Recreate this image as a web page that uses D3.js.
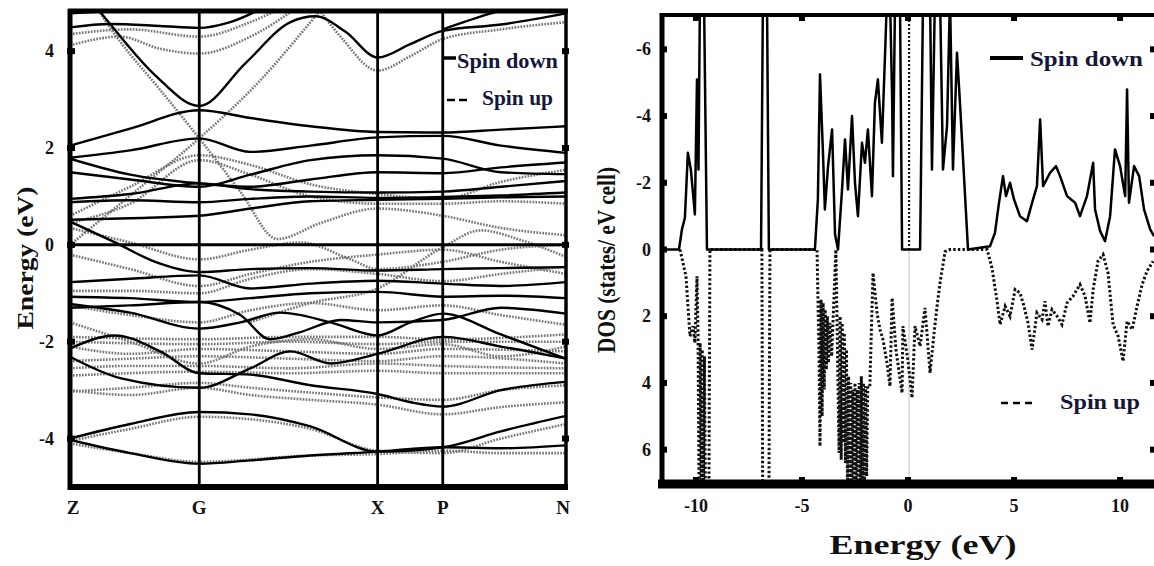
<!DOCTYPE html>
<html>
<head>
<meta charset="utf-8">
<script src="https://cdnjs.cloudflare.com/ajax/libs/d3/7.8.5/d3.min.js"></script>
<style>
body { margin: 0; background: #fff; }
svg text { font-family: "Liberation Serif", "DejaVu Serif", serif; font-weight: bold; fill: #111; }
</style>
</head>
<body>
<div id="chart"></div>
<script>
// high symmetry points along the k-path
var kLabels = ["Z", "G", "X", "P", "N"];
var kPos = [0, 1.29, 3.07, 3.72, 4.95];
var bandTicks = [-4, -2, 0, 2, 4];

// spin down bands (solid), [k, E]
var spinDownBands = [
  [[0,4.78],[0.6,4.85],[1.29,4.95],[1.7,5.1]],
  [[0,4.49],[0.4,4.56],[0.9,4.52],[1.29,4.48],[1.6,4.6],[2.0,4.95],[2.2,5.1]],
  [[0,5.6],[0.4,4.56],[0.85,3.5],[1.29,2.87],[1.75,3.75],[2.2,4.6],[2.45,4.72],[2.75,4.4],[3.07,3.87],[3.4,4.15],[3.72,4.42],[4.3,4.55],[4.95,4.78]],
  [[3.72,4.45],[4.2,4.78],[4.6,5.0],[4.95,5.1]],
  [[0,2.05],[0.6,2.4],[1.29,2.78],[1.8,2.62],[2.4,2.45],[3.07,2.33],[3.72,2.32],[4.3,2.38],[4.95,2.45]],
  [[0,1.8],[0.6,1.95],[1.29,2.2],[1.8,1.92],[2.4,2.05],[3.07,2.22],[3.72,2.25],[4.3,2.05],[4.95,1.9]],
  [[0,1.78],[0.6,1.45],[1.29,1.27],[1.8,1.2],[2.4,1.35],[3.07,1.5],[3.72,1.48],[4.3,1.6],[4.95,1.7]],
  [[0,1.5],[0.6,1.35],[1.29,1.2],[1.8,1.45],[2.4,1.75],[3.07,1.85],[3.72,1.78],[4.3,1.5],[4.95,1.46]],
  [[0,0.95],[0.6,1.05],[1.29,1.27],[1.8,1.15],[2.4,1.1],[3.07,1.08],[3.72,1.1],[4.3,1.2],[4.95,1.32]],
  [[0,0.88],[0.6,0.92],[1.29,0.88],[1.8,0.95],[2.4,1.0],[3.07,0.97],[3.72,0.99],[4.3,1.02],[4.95,1.08]],
  [[0,0.52],[0.6,0.55],[1.29,0.6],[1.8,0.75],[2.4,0.9],[3.07,0.93],[3.72,0.95],[4.3,0.98],[4.95,1.0]],
  [[0,0.48],[0.45,0.05],[0.85,-0.35],[1.29,-0.56],[1.8,-0.5],[2.4,-0.48],[3.07,-0.53],[3.72,-0.5],[4.3,-0.48],[4.95,-0.46]],
  [[0,-0.77],[0.6,-0.7],[1.29,-0.63],[1.8,-0.9],[2.4,-0.8],[3.07,-0.74],[3.72,-0.8],[4.3,-0.85],[4.95,-0.77]],
  [[0,-1.07],[0.6,-1.1],[1.29,-1.18],[1.8,-1.1],[2.4,-1.0],[3.07,-0.97],[3.72,-1.07],[4.3,-1.05],[4.95,-1.1]],
  [[0,-1.22],[0.6,-1.4],[1.29,-1.73],[1.7,-1.6],[2.1,-1.4],[2.6,-1.6],[3.07,-1.87],[3.4,-1.6],[3.72,-1.42],[4.3,-1.85],[4.95,-2.35]],
  [[0,-1.3],[0.6,-1.25],[1.29,-1.18],[1.7,-1.45],[2.0,-1.95],[2.3,-1.8],[2.7,-1.55],[3.07,-1.6],[3.72,-1.55],[4.3,-1.3],[4.95,-1.42]],
  [[0,-2.14],[0.45,-1.87],[0.9,-2.2],[1.29,-2.65],[1.8,-2.68],[2.4,-2.9],[3.07,-3.08],[3.4,-3.25],[3.72,-3.34],[4.3,-3.0],[4.95,-2.83]],
  [[0,-2.31],[0.5,-2.75],[1.29,-2.95],[1.8,-2.55],[2.2,-2.2],[2.6,-2.45],[3.07,-2.25],[3.72,-1.9],[4.3,-2.1],[4.95,-2.35]],
  [[0,-4.0],[0.6,-3.7],[1.29,-3.45],[1.8,-3.5],[2.4,-3.75],[3.07,-4.27],[3.72,-4.18],[4.3,-3.85],[4.95,-3.53]],
  [[0,-4.03],[0.6,-4.3],[1.29,-4.52],[1.8,-4.45],[2.4,-4.35],[3.07,-4.27],[3.72,-4.18],[4.3,-4.2],[4.95,-4.14]]
];

// spin up bands (dotted), [k, E]
var spinUpBands = [
  [[0,4.12],[0.5,4.3],[0.9,4.05],[1.29,3.95],[1.8,4.3],[2.3,4.95]],
  [[0,4.35],[0.6,4.45],[1.29,4.3],[1.8,4.6],[2.3,5.1]],
  [[2.4,5.1],[2.7,4.3],[3.07,3.6],[3.4,3.9],[3.72,4.25],[4.3,4.45],[4.95,4.6]],
  [[0,0.0],[0.65,1.1],[1.29,2.2],[1.9,3.4],[2.4,4.6],[2.6,5.1]],
  [[0.2,5.1],[0.5,4.2],[0.9,3.2],[1.29,2.2],[1.7,1.1],[2.07,0.12],[2.5,0.45],[3.07,0.75],[3.72,0.6],[4.3,0.35],[4.95,0.2]],
  [[0,0.6],[0.6,1.2],[1.29,1.85],[1.8,1.65],[2.4,1.25],[3.07,1.05],[3.72,0.95],[4.3,1.3],[4.95,1.55]],
  [[0,0.45],[0.6,0.85],[1.29,1.75],[1.8,1.45],[2.4,1.0],[3.07,0.85],[3.72,0.85],[4.3,0.9],[4.95,0.85]],
  [[0,0.35],[0.6,0.05],[1.29,-0.3],[1.8,-0.1],[2.3,0.05],[2.8,-0.3],[3.07,-0.5],[3.72,-0.35],[4.3,-0.1],[4.95,0.0]],
  [[0,-0.2],[0.6,-0.5],[1.29,-0.85],[1.8,-0.6],[2.4,-0.35],[3.07,-0.2],[3.72,-0.1],[4.3,-0.35],[4.95,-0.6]],
  [[0,-0.95],[0.6,-0.95],[1.29,-1.0],[1.8,-0.7],[2.4,-0.5],[3.07,-0.6],[3.72,-0.75],[4.3,-0.6],[4.95,-0.45]],
  [[0,-1.25],[0.6,-1.45],[1.29,-1.6],[1.8,-1.35],[2.4,-1.2],[3.07,-1.35],[3.72,-1.25],[4.3,-1.45],[4.95,-1.65]],
  [[1.8,-1.6],[2.4,-1.2],[3.07,-0.9],[3.72,-0.05],[4.1,0.3],[4.5,0.1],[4.95,-0.25]],
  [[0,-1.9],[1.29,-1.95],[2.2,-1.9],[3.07,-1.9],[3.72,-1.95],[4.95,-1.85]],
  [[0,-2.0],[1.29,-2.05],[2.2,-2.0],[3.07,-2.05],[3.72,-2.0],[4.95,-2.0]],
  [[0,-2.1],[0.6,-2.25],[1.29,-2.15],[2.2,-2.2],[3.07,-2.25],[3.72,-2.15],[4.95,-2.2]],
  [[0,-2.4],[0.6,-2.35],[1.29,-2.3],[2.2,-2.35],[3.07,-2.4],[3.72,-2.3],[4.95,-2.45]],
  [[0,-2.55],[0.6,-2.5],[1.29,-2.5],[2.2,-2.55],[3.07,-2.45],[3.72,-2.5],[4.95,-2.55]],
  [[0,-2.7],[1.29,-2.62],[2.2,-2.65],[3.07,-2.6],[3.72,-2.65],[4.95,-2.65]],
  [[0,-1.6],[0.6,-2.0],[1.29,-2.45],[1.8,-2.1],[2.4,-1.95],[3.07,-2.15],[3.72,-2.05],[4.3,-2.3],[4.95,-2.1]],
  [[0,-3.03],[0.6,-2.95],[1.29,-2.85],[1.8,-2.95],[2.4,-3.05],[3.07,-3.15],[3.72,-3.2],[4.3,-3.0],[4.95,-2.9]],
  [[0,-3.0],[0.6,-3.1],[1.29,-2.95],[1.8,-3.1],[2.4,-3.2],[3.07,-3.3],[3.72,-3.5],[4.3,-3.35],[4.95,-3.25]],
  [[0,-4.05],[0.6,-3.8],[1.29,-3.55],[1.8,-3.6],[2.4,-3.8],[3.07,-4.25],[3.72,-4.3],[4.3,-4.0],[4.95,-3.7]],
  [[0,-4.1],[0.6,-4.3],[1.29,-4.48],[2.4,-4.35],[3.07,-4.32],[3.72,-4.25],[4.3,-4.3],[4.95,-4.3]]
];

// DOS, [E, states]; spin down drawn negative (upwards)
var dosSpinDown = [
  [-11.56,0],[-10.8,0],[-10.66,-0.6],[-10.52,-0.95],[-10.38,-2.9],[-10.24,-2.4],[-10.05,-1.05],[-9.95,-5.1],[-9.88,-2.4],[-9.81,-7.6],[-9.62,-7.6],[-9.48,0],
  [-6.93,0],[-6.84,-7.6],[-6.65,-7.6],[-6.56,0],
  [-4.39,0],[-4.25,-1.5],[-4.15,-5.25],[-4.01,-2.9],[-3.92,-1.2],[-3.77,-2.5],[-3.58,-3.6],[-3.44,-0.45],[-3.3,0],[-3.11,-1.8],[-2.97,-3.3],[-2.83,-1.8],[-2.64,-4.0],[-2.5,-2.0],[-2.36,-1.0],[-2.17,-3.2],[-2.03,-2.6],[-1.89,-3.6],[-1.7,-1.6],[-1.56,-4.4],[-1.42,-5.1],[-1.23,-3.2],[-1.08,-5.9],[-0.99,-7.6],[-0.85,-7.6],[-0.75,-4.6],[-0.71,-2.2],[-0.61,-7.6],[-0.38,-7.6],[-0.28,0],
  [0.57,0],[0.71,-7.6],[1.04,-7.6],[1.13,-2.4],[1.27,-7.6],[1.51,-7.6],[1.65,-2.4],[1.84,-3.7],[1.98,-7.6],[2.12,-2.4],[2.31,-5.9],[2.45,-4.4],[2.83,0],
  [3.87,-0.1],[4.1,-0.5],[4.29,-1.4],[4.48,-2.2],[4.62,-1.6],[4.81,-2.0],[5.0,-1.5],[5.28,-1.0],[5.61,-0.85],[5.85,-1.4],[6.08,-1.9],[6.23,-3.9],[6.37,-1.9],[6.7,-2.3],[6.98,-2.5],[7.17,-2.2],[7.5,-1.6],[7.88,-1.4],[8.11,-1.0],[8.44,-1.6],[8.73,-2.6],[8.82,-1.2],[9.06,-0.55],[9.29,-0.25],[9.53,-1.0],[9.76,-3.0],[10.0,-2.5],[10.24,-1.6],[10.33,-4.8],[10.42,-1.4],[10.66,-2.5],[10.9,-2.2],[11.13,-1.2],[11.42,-0.6],[11.6,-0.4]
];

var dosSpinUp = [
  [-10.75,0],[-10.47,0.8],[-10.28,2.6],[-10.14,2.3],[-10.05,2.8],[-9.95,0.8],[-9.9,2.6],[-9.85,7.6],[-9.8,2.8],[-9.75,7.6],[-9.7,3.0],[-9.65,7.6],[-9.6,3.2],[-9.55,7.6],[-9.39,7.6],[-9.34,0],
  [-6.89,0],[-6.85,7.6],[-6.56,7.6],[-6.51,0],
  [-4.29,0],[-4.2,3.0],[-4.15,5.9],[-4.1,1.5],[-4.05,5.0],[-4.0,1.6],[-3.95,4.2],[-3.9,1.8],[-3.85,3.6],[-3.8,2.0],[-3.75,3.4],[-3.68,2.2],[-3.6,3.2],[-3.4,0],
  [-3.25,6.1],[-3.2,2.0],[-3.15,6.3],[-3.1,2.2],[-3.05,5.8],[-3.0,2.5],[-2.95,6.4],[-2.9,3.0],[-2.85,7.6],[-2.8,3.8],[-2.75,7.6],[-2.7,4.0],[-2.65,7.6],[-2.6,4.2],[-2.55,7.6],[-2.5,4.0],[-2.45,7.6],[-2.4,4.2],[-2.35,7.6],[-2.3,4.0],[-2.25,7.6],[-2.2,3.8],[-2.15,7.6],[-2.1,4.0],[-2.05,7.2],[-2.0,4.1],[-1.95,6.8],[-1.9,4.1],[-1.8,4.1],[-1.65,0.7],
  [-1.46,1.9],[-1.32,2.4],[-1.18,2.7],[-0.99,3.4],[-0.85,4.1],[-0.75,1.45],[-0.57,3.0],[-0.28,4.3],[-0.24,2.3],[0,3.35],[0.19,4.45],[0.33,2.3],[0.57,2.9],[0.8,1.75],[1.04,3.7],[1.23,2.5],[1.37,1.7],[1.51,1.0],[1.75,0.06],[1.98,0],
  [3.73,0],[3.96,0.55],[4.2,1.55],[4.34,2.25],[4.58,1.7],[4.81,2.0],[5.05,1.2],[5.28,1.3],[5.47,1.7],[5.66,2.2],[5.85,3.0],[6.08,1.9],[6.32,2.1],[6.46,1.55],[6.6,2.3],[6.79,1.8],[7.03,2.0],[7.26,2.25],[7.5,1.6],[7.78,1.4],[8.11,1.05],[8.35,1.4],[8.58,2.2],[8.73,1.2],[8.96,0.35],[9.2,0.15],[9.43,0.7],[9.67,2.25],[9.91,2.6],[10.14,3.35],[10.33,2.15],[10.57,2.4],[10.8,1.7],[11.04,1.05],[11.27,0.65],[11.56,0.35]
];

var dosXTicks = [-10, -5, 0, 5, 10];
var dosYTicks = [-6, -4, -2, 0, 2, 4, 6];

var svg = d3.select("#chart")
  .append("svg")
  .attr("width", 1154)
  .attr("height", 566);

svg.append("rect").attr("width", 1154).attr("height", 566).attr("fill", "#fff");

var defs = svg.append("defs");

// ---------- band structure panel ----------
var bx = d3.scaleLinear().domain([0, 4.95]).range([70, 566]);
var by = d3.scaleLinear().domain([-5, 4.85]).range([487, 10]);

defs.append("clipPath").attr("id", "clipBand")
  .append("rect").attr("x", 70).attr("y", 10).attr("width", 496).attr("height", 477);

var bandLine = d3.line()
  .x(d => bx(d[0]))
  .y(d => by(d[1]))
  .curve(d3.curveMonotoneX);

var bandGroup = svg.append("g").attr("clip-path", "url(#clipBand)");

bandGroup.selectAll(".up")
  .data(spinUpBands)
  .enter()
  .append("path")
  .attr("d", bandLine)
  .attr("fill", "none")
  .attr("stroke", "#777")
  .attr("stroke-width", 2.6)
  .attr("stroke-dasharray", "1.7,1.3");

bandGroup.selectAll(".down")
  .data(spinDownBands)
  .enter()
  .append("path")
  .attr("d", bandLine)
  .attr("fill", "none")
  .attr("stroke", "#000")
  .attr("stroke-width", 2.4);

// Fermi level and high symmetry lines
bandGroup.append("line")
  .attr("x1", bx(0)).attr("x2", bx(4.95))
  .attr("y1", by(0)).attr("y2", by(0))
  .attr("stroke", "#000").attr("stroke-width", 3);

bandGroup.selectAll(".kline")
  .data(kPos.slice(1, 4))
  .enter()
  .append("line")
  .attr("x1", d => bx(d)).attr("x2", d => bx(d))
  .attr("y1", 10).attr("y2", 487)
  .attr("stroke", "#000").attr("stroke-width", 2.8);

// frame
svg.append("line").attr("x1", 68).attr("x2", 568).attr("y1", 11).attr("y2", 11).attr("stroke", "#000").attr("stroke-width", 5);
svg.append("line").attr("x1", 68).attr("x2", 568).attr("y1", 487).attr("y2", 487).attr("stroke", "#000").attr("stroke-width", 6);
svg.append("line").attr("x1", 70).attr("x2", 70).attr("y1", 9).attr("y2", 490).attr("stroke", "#000").attr("stroke-width", 5);
svg.append("line").attr("x1", 566).attr("x2", 566).attr("y1", 9).attr("y2", 490).attr("stroke", "#000").attr("stroke-width", 3.5);

svg.selectAll(".btick")
  .data(bandTicks)
  .enter()
  .append("rect")
  .attr("x", 67).attr("y", d => by(d) - 3)
  .attr("width", 8).attr("height", 6)
  .attr("fill", "#000");

svg.selectAll(".btickr")
  .data(bandTicks)
  .enter()
  .append("rect")
  .attr("x", 562).attr("y", d => by(d) - 3)
  .attr("width", 7).attr("height", 6)
  .attr("fill", "#000");

svg.selectAll(".blabel")
  .data(bandTicks)
  .enter()
  .append("text")
  .attr("x", 54)
  .attr("y", d => by(d) + 6)
  .attr("text-anchor", "end")
  .attr("font-size", "18px")
  .text(d => d);

svg.selectAll(".klabel")
  .data(kLabels)
  .enter()
  .append("text")
  .attr("x", (d, i) => i == 0 ? 73 : (i == 4 ? 563 : bx(kPos[i])))
  .attr("y", 514)
  .attr("text-anchor", "middle")
  .attr("font-size", "19px")
  .text(d => d);

svg.append("text")
  .attr("transform", "translate(33, 258) rotate(-90)")
  .attr("text-anchor", "middle")
  .attr("font-size", "23px")
  .attr("textLength", 143)
  .attr("lengthAdjust", "spacingAndGlyphs")
  .text("Energy (eV)");

// legend (band panel)
svg.append("line").attr("x1", 442).attr("x2", 456).attr("y1", 58).attr("y2", 58).attr("stroke", "#000").attr("stroke-width", 3.5);
svg.append("text").attr("x", 457).attr("y", 68).attr("font-size", "20px")
  .attr("textLength", 101).attr("lengthAdjust", "spacingAndGlyphs")
  .style("fill", "#16163a").text("Spin down");
svg.append("line").attr("x1", 447).attr("x2", 470).attr("y1", 100).attr("y2", 100).attr("stroke", "#000").attr("stroke-width", 2.5).attr("stroke-dasharray", "8,4");
svg.append("text").attr("x", 482).attr("y", 105).attr("font-size", "20px")
  .attr("textLength", 71).attr("lengthAdjust", "spacingAndGlyphs")
  .style("fill", "#16163a").text("Spin up");

// ---------- DOS panel ----------
var dx = d3.scaleLinear().domain([-11.6, 11.6]).range([662, 1154]);
var dy = d3.scaleLinear().domain([-7, 7]).range([16, 483]);

defs.append("clipPath").attr("id", "clipDos")
  .append("rect").attr("x", 662).attr("y", 16).attr("width", 492).attr("height", 467);

var dosLine = d3.line()
  .x(d => dx(d[0]))
  .y(d => dy(d[1]));

var dosGroup = svg.append("g").attr("clip-path", "url(#clipDos)");

// Fermi marker
dosGroup.append("line")
  .attr("x1", dx(0.05)).attr("x2", dx(0.05))
  .attr("y1", dy(-7)).attr("y2", dy(0))
  .attr("stroke", "#111").attr("stroke-width", 2.2)
  .attr("stroke-dasharray", "2,2");
dosGroup.append("line")
  .attr("x1", dx(0.05)).attr("x2", dx(0.05))
  .attr("y1", dy(0)).attr("y2", dy(7))
  .attr("stroke", "#999").attr("stroke-width", 1.2)
  .attr("stroke-dasharray", "1,1");

dosGroup.append("path")
  .datum(dosSpinUp)
  .attr("d", dosLine)
  .attr("fill", "none")
  .attr("stroke", "#111")
  .attr("stroke-width", 3)
  .attr("stroke-dasharray", "2.4,2.2");

dosGroup.append("path")
  .datum(dosSpinDown)
  .attr("d", dosLine)
  .attr("fill", "none")
  .attr("stroke", "#000")
  .attr("stroke-width", 2.5)
  .attr("stroke-linejoin", "round");

// frame
svg.append("line").attr("x1", 660).attr("x2", 1154).attr("y1", 15).attr("y2", 15).attr("stroke", "#000").attr("stroke-width", 4);
svg.append("line").attr("x1", 658).attr("x2", 1154).attr("y1", 484).attr("y2", 484).attr("stroke", "#000").attr("stroke-width", 9);
svg.append("line").attr("x1", 662).attr("x2", 662).attr("y1", 13).attr("y2", 488).attr("stroke", "#000").attr("stroke-width", 5);

svg.selectAll(".dytick")
  .data(dosYTicks)
  .enter()
  .append("rect")
  .attr("x", 660).attr("y", d => dy(d) - 3)
  .attr("width", 7).attr("height", 6)
  .attr("fill", "#000");

svg.selectAll(".dytickr")
  .data(dosYTicks)
  .enter()
  .append("rect")
  .attr("x", 1150).attr("y", d => dy(d) - 3)
  .attr("width", 4).attr("height", 6)
  .attr("fill", "#000");

svg.selectAll(".dxtick")
  .data(dosXTicks)
  .enter()
  .append("rect")
  .attr("x", d => dx(d) - 3).attr("y", 477)
  .attr("width", 6).attr("height", 6)
  .attr("fill", "#000");

svg.selectAll(".dxtickt")
  .data(dosXTicks)
  .enter()
  .append("rect")
  .attr("x", d => dx(d) - 3).attr("y", 15)
  .attr("width", 6).attr("height", 6)
  .attr("fill", "#000");

svg.selectAll(".dylabel")
  .data(dosYTicks)
  .enter()
  .append("text")
  .attr("x", 651)
  .attr("y", d => dy(d) + 6)
  .attr("text-anchor", "end")
  .attr("font-size", "18px")
  .text(d => d);

svg.selectAll(".dxlabel")
  .data(dosXTicks)
  .enter()
  .append("text")
  .attr("x", d => dx(d))
  .attr("y", 512)
  .attr("text-anchor", "middle")
  .attr("font-size", "18px")
  .text(d => d);

svg.append("text")
  .attr("transform", "translate(615, 260) rotate(-90)")
  .attr("text-anchor", "middle")
  .attr("font-size", "25px")
  .attr("textLength", 186)
  .attr("lengthAdjust", "spacingAndGlyphs")
  .text("DOS (states/ eV cell)");

svg.append("text")
  .attr("x", 923)
  .attr("y", 554)
  .attr("text-anchor", "middle")
  .attr("font-size", "28px")
  .attr("textLength", 187)
  .attr("lengthAdjust", "spacingAndGlyphs")
  .text("Energy (eV)");

// legend (DOS panel)
svg.append("line").attr("x1", 990).attr("x2", 1023).attr("y1", 58).attr("y2", 58).attr("stroke", "#000").attr("stroke-width", 4);
svg.append("text").attr("x", 1030).attr("y", 66).attr("font-size", "21px")
  .attr("textLength", 113).attr("lengthAdjust", "spacingAndGlyphs")
  .style("fill", "#16163a").text("Spin down");
svg.append("line").attr("x1", 1001).attr("x2", 1036).attr("y1", 403).attr("y2", 403).attr("stroke", "#000").attr("stroke-width", 2.5).attr("stroke-dasharray", "7,5");
svg.append("text").attr("x", 1060).attr("y", 409).attr("font-size", "21px")
  .attr("textLength", 80).attr("lengthAdjust", "spacingAndGlyphs")
  .style("fill", "#16163a").text("Spin up");
</script>
</body>
</html>
